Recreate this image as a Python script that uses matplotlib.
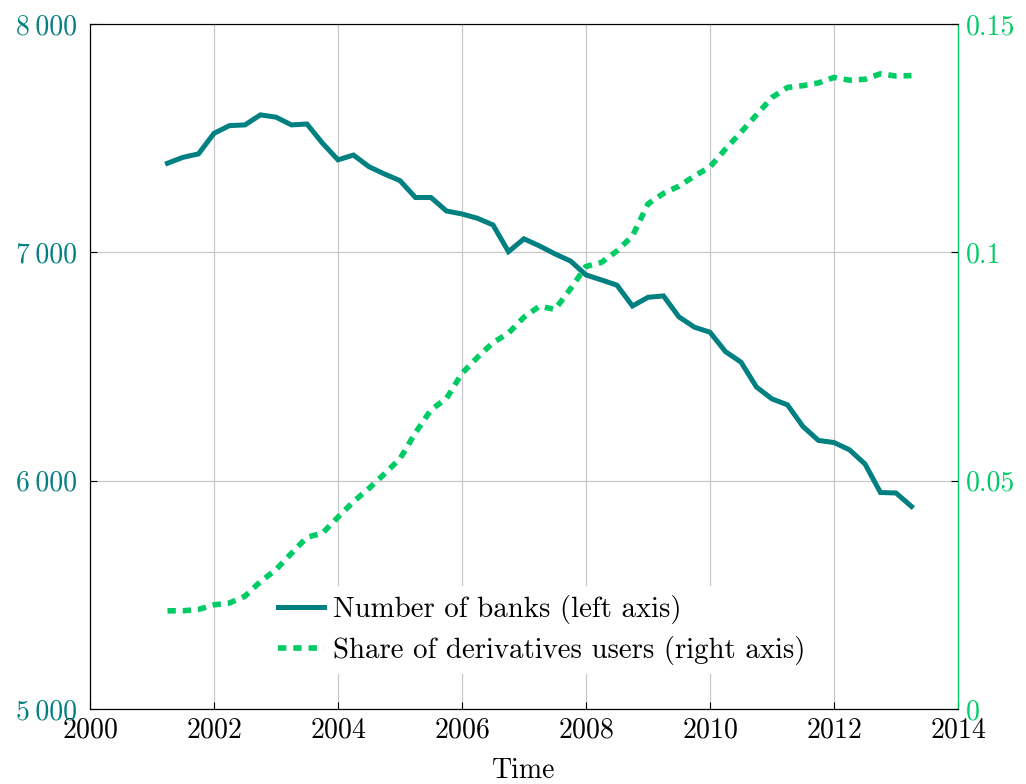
import numpy as np
import matplotlib
matplotlib.use("Agg")
import matplotlib.pyplot as plt
from matplotlib.ticker import FuncFormatter

plt.rcParams['font.family'] = ['cmr10', 'DejaVu Serif']
plt.rcParams['axes.formatter.use_mathtext'] = True
plt.rcParams['font.size'] = 20

# quarterly observations, 2001Q2 .. 2013Q2
quarters = 2001.25 + 0.25 * np.arange(49)

banks = [7390, 7416, 7431, 7521, 7555, 7558, 7602, 7592, 7558, 7562,
         7478, 7405, 7426, 7375, 7343, 7314, 7240, 7240, 7181,
         7168, 7149, 7120, 7003, 7059, 7028, 6993, 6962, 6901, 6879,
         6856, 6765, 6803, 6809, 6717, 6672,
         6650, 6565, 6519, 6410, 6358, 6332, 6237, 6176, 6167, 6135,
         6073, 5948, 5946, 5887]

deriv_share = [0.0215, 0.0215, 0.0218, 0.0228, 0.0232, 0.0247, 0.0279, 0.0305,
               0.0341, 0.0376, 0.0385, 0.0420, 0.0454, 0.0483, 0.0515, 0.0548,
               0.0605, 0.0655, 0.0680, 0.0735, 0.0770, 0.0802, 0.0823, 0.0858,
               0.0882, 0.0875, 0.0920, 0.0969, 0.0978, 0.1003, 0.1036, 0.1106,
               0.1129, 0.1145, 0.1167, 0.1187, 0.1226, 0.1263, 0.1301, 0.1339,
               0.1361, 0.1365, 0.1371, 0.1383, 0.1377, 0.1379, 0.1391, 0.1386,
               0.1387]

x_ticks = [2000, 2002, 2004, 2006, 2008, 2010, 2012, 2014]
left_ticks = [5000, 6000, 7000, 8000]
right_ticks = [0, 0.05, 0.1, 0.15]

teal = '#008080'
green = '#00cc66'

fig = plt.figure(figsize=(10.26, 7.84), dpi=100)
ax = fig.add_axes([0.0877, 0.0957, 0.8460, 0.8737])
ax2 = ax.twinx()

l1, = ax.plot(quarters, banks, color=teal, lw=3.6, solid_joinstyle='miter',
              label='Number of banks (left axis)')
l2, = ax2.plot(quarters, deriv_share, color=green, lw=4.0, dashes=(1.5, 1.25),
               dash_capstyle='butt', label='Share of derivatives users (right axis)')

ax.set_xlim(2000, 2014)
ax.set_ylim(5000, 8000)
ax2.set_ylim(0, 0.15)
ax.set_xticks(x_ticks)
ax.set_yticks(left_ticks)
ax2.set_yticks(right_ticks)

ax.yaxis.set_major_formatter(FuncFormatter(lambda v, p: f"{int(v):,}".replace(",", "\u2009")))
ax2.yaxis.set_major_formatter(FuncFormatter(lambda v, p: "0" if v == 0 else f"{v:g}"))

ax.grid(True, color='#c8c8c8', lw=0.9)
ax.set_axisbelow(True)

ax.tick_params(axis='x', direction='in', length=5, pad=6, labelsize=20)
ax.tick_params(axis='y', direction='in', length=5, pad=9, labelsize=20, labelcolor=teal)
ax2.tick_params(axis='y', direction='in', length=5, pad=6, labelsize=20, labelcolor=green)

for s in ['left', 'top', 'bottom']:
    ax.spines[s].set_color('black')
ax2.spines['right'].set_color(green)

ax.set_xlabel('Time', fontsize=20, labelpad=10)

leg = ax2.legend(handles=[l1, l2], loc='center', bbox_to_anchor=(0.52, 0.115),
                 frameon=True, fancybox=False, framealpha=1, edgecolor='none',
                 facecolor='white', fontsize=20.8, handlelength=1.6,
                 handletextpad=0.3, labelspacing=0.42, borderpad=0.3)

fig.savefig('out.png', dpi=100)
